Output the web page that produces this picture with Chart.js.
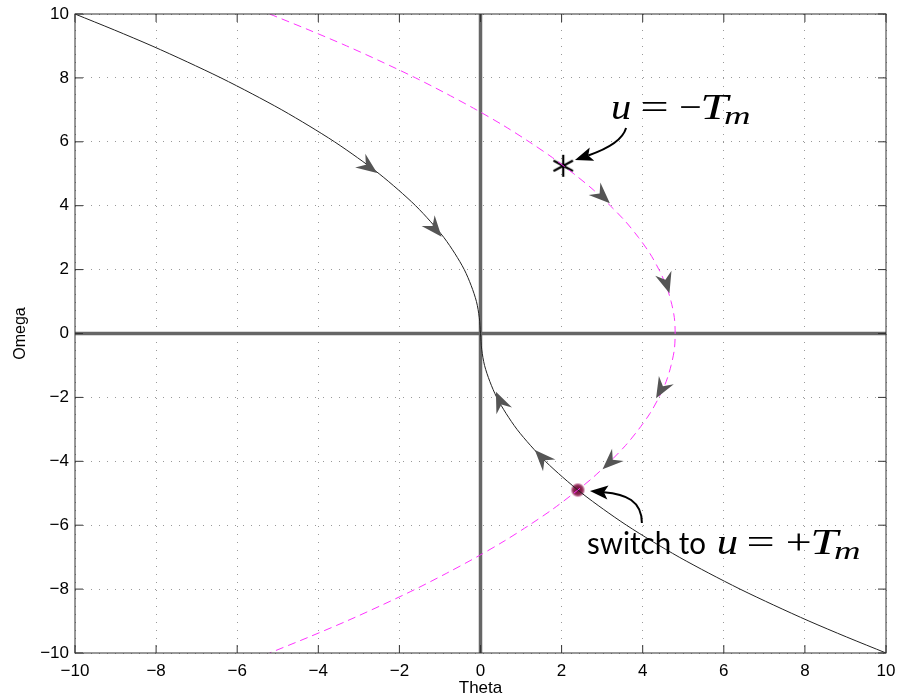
<!DOCTYPE html>
<html>
<head>
<meta charset="utf-8">
<script src="https://cdn.jsdelivr.net/npm/chart.js@4.4.1/dist/chart.umd.min.js"></script>
<style>
  html, body { margin: 0; padding: 0; background: #fff; }
  canvas { display: block; }
</style>
</head>
<body>
<canvas id="myChart" width="897" height="700"></canvas>
<script>
// omega samples shared by both trajectories
const omegaPts = [10, 9.5, 9, 8.5, 8, 7.5, 7, 6.5, 6, 5.5, 5, 4.5, 4, 3.5, 3, 2.5, 2, 1.5, 1, 0.5, 0,
  -0.5, -1, -1.5, -2, -2.5, -3, -3.5, -4, -4.5, -5, -5.5, -6, -6.5, -7, -7.5, -8, -8.5, -9, -9.5, -10];

// u = +Tm trajectory (solid black)
const blackTheta = [-10, -9.03, -8.1, -7.23, -6.4, -5.63, -4.9, -4.23, -3.6, -3.03, -2.5, -2.03, -1.6, -1.23, -0.9, -0.63, -0.4, -0.23, -0.1, -0.03, 0,
  0.03, 0.1, 0.23, 0.4, 0.63, 0.9, 1.23, 1.6, 2.03, 2.5, 3.03, 3.6, 4.23, 4.9, 5.63, 6.4, 7.23, 8.1, 9.03, 10];

// u = -Tm trajectory (dashed magenta)
const magentaTheta = [-5.2, -4.23, -3.3, -2.43, -1.6, -0.83, -0.1, 0.58, 1.2, 1.78, 2.3, 2.78, 3.2, 3.58, 3.9, 4.18, 4.4, 4.58, 4.7, 4.78, 4.8,
  4.78, 4.7, 4.58, 4.4, 4.18, 3.9, 3.58, 3.2, 2.78, 2.3, 1.78, 1.2, 0.58, -0.1, -0.83, -1.6, -2.43, -3.3, -4.23, -5.2];

// start point (*) and switching point
const startTheta = [2.04];
const startOmega = [5.25];
const switchTheta = [2.4];
const switchOmega = [-4.9];

// flow arrows along the curves
const arrowCurve = ['black', 'black', 'black', 'black', 'magenta', 'magenta', 'magenta', 'magenta'];
const arrowTheta = [-2.55, -0.96, 0.38, 1.34, 3.19, 4.66, 4.33, 3.01];
const arrowOmega = [5.02, 3.03, -1.82, -3.65, 4.08, 1.26, -2.03, -4.25];
const arrowFlow = [1, 1, -1, -1, 1, 1, 1, 1];

const tickValues = [-10, -8, -6, -4, -2, 0, 2, 4, 6, 8, 10];

const blackData = omegaPts.map((w, i) => ({ x: blackTheta[i], y: w }));
const magentaData = omegaPts.map((w, i) => ({ x: magentaTheta[i], y: w }));

// marker images
const starImg = document.createElement('canvas');
starImg.width = 28; starImg.height = 28;
(() => {
  const c = starImg.getContext('2d');
  c.strokeStyle = '#000';
  c.lineWidth = 2.2;
  [90, 28, 152].forEach(a => {
    const r = a * Math.PI / 180;
    c.beginPath();
    c.moveTo(14 - Math.cos(r) * 11, 14 - Math.sin(r) * 11);
    c.lineTo(14 + Math.cos(r) * 11, 14 + Math.sin(r) * 11);
    c.stroke();
  });
})();

const dotImg = document.createElement('canvas');
dotImg.width = 18; dotImg.height = 18;
(() => {
  const c = dotImg.getContext('2d');
  const g = c.createRadialGradient(9, 9, 0, 9, 9, 7.5);
  g.addColorStop(0, '#6e1038');
  g.addColorStop(0.5, '#86204c');
  g.addColorStop(0.72, '#a2466f');
  g.addColorStop(0.88, 'rgba(200,130,165,0.6)');
  g.addColorStop(1, 'rgba(230,180,205,0)');
  c.fillStyle = g;
  c.beginPath(); c.arc(9, 9, 7.5, 0, Math.PI * 2); c.fill();
})();

function stealth(ctx, tip, dir, len, half, notch, color) {
  const nx = -dir.y, ny = dir.x;
  const bx = tip.x - dir.x * len, by = tip.y - dir.y * len;
  ctx.beginPath();
  ctx.moveTo(tip.x, tip.y);
  ctx.lineTo(bx + nx * half, by + ny * half);
  ctx.lineTo(tip.x - dir.x * (len - notch), tip.y - dir.y * (len - notch));
  ctx.lineTo(bx - nx * half, by - ny * half);
  ctx.closePath();
  ctx.fillStyle = color;
  ctx.fill();
}

// text labels drawn piece by piece; dx = ink left, w = ink width,
// dy = baseline shift, top/h fit the ink height when given
const labelOne = { at: [3.243, 6.714], pieces: [
  { t: 'u', font: 'italic 36px "Liberation Serif"', dx: 0, w: 18 },
  { t: '=', font: '36px "Liberation Serif"', dx: 30, w: 25 },
  { t: '\u2212', font: '36px "Liberation Serif"', dx: 68, w: 20 },
  { t: 'T', font: 'italic 36px "Liberation Serif"', dx: 91, w: 29 },
  { t: 'm', font: 'italic 25px "Liberation Serif"', dx: 112, w: 25, dy: 5 }
] };
const labelTwo = { at: [2.651, -6.90], pieces: [
  { t: 'switch to', font: '30px Lato', dx: 0, w: 117, top: 23, h: 23 },
  { t: 'u', font: 'italic 36px "Liberation Serif"', dx: 130, w: 19 },
  { t: '=', font: '36px "Liberation Serif"', dx: 160, w: 25 },
  { t: '+', font: '36px "Liberation Serif"', dx: 199, w: 23 },
  { t: 'T', font: 'italic 36px "Liberation Serif"', dx: 225, w: 29 },
  { t: 'm', font: 'italic 25px "Liberation Serif"', dx: 246, w: 25, dy: 5 }
] };

// callout arrows: from/to in data units, bezier handles in px relative to "from"
const callouts = [
  { from: [3.59, 6.43], to: [2.33, 5.43], c1: [-4, 14], c2: [-22, 22] },
  { from: [3.98, -5.93], to: [2.70, -4.93], c1: [0, -22], c2: [-16, -29] }
];

const phasePlugin = {
  id: 'phase',
  beforeDatasetsDraw(chart) {
    const { ctx, chartArea: a, scales: { x, y } } = chart;
    ctx.save();
    ctx.strokeStyle = '#666';
    ctx.lineWidth = 3.5;
    ctx.beginPath();
    const x0 = x.getPixelForValue(0), y0 = y.getPixelForValue(0);
    ctx.moveTo(x0, a.top); ctx.lineTo(x0, a.bottom);
    ctx.moveTo(a.left, y0); ctx.lineTo(a.right, y0);
    ctx.stroke();
    ctx.restore();
  },
  afterDatasetsDraw(chart) {
    const { ctx, chartArea: a, scales: { x, y } } = chart;
    const P = (t, w) => ({ x: x.getPixelForValue(t), y: y.getPixelForValue(w) });

    // flow arrows
    const curves = { black: blackData, magenta: magentaData };
    arrowTheta.forEach((t, i) => {
      const tip = P(t, arrowOmega[i]);
      const pts = curves[arrowCurve[i]].map(p => P(p.x, p.y));
      let best = 0, bd = Infinity;
      for (let k = 0; k < pts.length - 1; k++) {
        const mx = (pts[k].x + pts[k + 1].x) / 2, my = (pts[k].y + pts[k + 1].y) / 2;
        const d = (mx - tip.x) ** 2 + (my - tip.y) ** 2;
        if (d < bd) { bd = d; best = k; }
      }
      const dx = (pts[best + 1].x - pts[best].x) * arrowFlow[i];
      const dy = (pts[best + 1].y - pts[best].y) * arrowFlow[i];
      const n = Math.hypot(dx, dy);
      stealth(ctx, tip, { x: dx / n, y: dy / n }, 21, 8.5, 7, '#555');
    });

    // plot box and inward ticks
    ctx.save();
    ctx.strokeStyle = '#333';
    ctx.lineWidth = 1;
    ctx.strokeRect(a.left, a.top, a.right - a.left, a.bottom - a.top);
    ctx.beginPath();
    tickValues.forEach(v => {
      const px = x.getPixelForValue(v), py = y.getPixelForValue(v);
      ctx.moveTo(px, a.bottom); ctx.lineTo(px, a.bottom - 8);
      ctx.moveTo(px, a.top); ctx.lineTo(px, a.top + 8);
      ctx.moveTo(a.left, py); ctx.lineTo(a.left + 8, py);
      ctx.moveTo(a.right, py); ctx.lineTo(a.right - 8, py);
    });
    ctx.stroke();
    ctx.restore();

    // callout arrows
    ctx.save();
    callouts.forEach(c => {
      const s = P(c.from[0], c.from[1]);
      const tip = P(c.to[0], c.to[1]);
      const h1 = { x: s.x + c.c1[0], y: s.y + c.c1[1] };
      const h2 = { x: s.x + c.c2[0], y: s.y + c.c2[1] };
      let dx = tip.x - h2.x, dy = tip.y - h2.y;
      const n = Math.hypot(dx, dy);
      dx /= n; dy /= n;
      const base = { x: tip.x - dx * 14, y: tip.y - dy * 14 };
      ctx.strokeStyle = '#000';
      ctx.lineWidth = 2;
      ctx.beginPath();
      ctx.moveTo(s.x, s.y);
      ctx.bezierCurveTo(h1.x, h1.y, h2.x, h2.y, base.x, base.y);
      ctx.stroke();
      stealth(ctx, tip, { x: dx, y: dy }, 18, 7, 4, '#000');
    });
    ctx.restore();

    // labels
    [labelOne, labelTwo].forEach(lab => {
      const o = P(lab.at[0], lab.at[1]);
      lab.pieces.forEach(p => {
        ctx.save();
        ctx.font = p.font;
        ctx.textAlign = 'left';
        ctx.textBaseline = 'alphabetic';
        ctx.fillStyle = '#000';
        const m = ctx.measureText(p.t);
        const sx = p.w / (m.actualBoundingBoxLeft + m.actualBoundingBoxRight);
        if (p.h) {
          const sy = p.h / (m.actualBoundingBoxAscent + m.actualBoundingBoxDescent);
          ctx.translate(o.x + p.dx, o.y - p.top);
          ctx.scale(sx, sy);
          ctx.fillText(p.t, m.actualBoundingBoxLeft, m.actualBoundingBoxAscent);
        } else {
          ctx.translate(o.x + p.dx, o.y + (p.dy || 0));
          ctx.scale(sx, 1);
          ctx.fillText(p.t, m.actualBoundingBoxLeft, 0);
        }
        ctx.restore();
      });
    });
  }
};

const fmt = v => (v < 0 ? '\u2212' + Math.abs(v) : String(v));

const ctx = document.querySelector('#myChart').getContext('2d');
const myChart = new Chart(ctx, {
  type: 'scatter',
  data: {
    datasets: [
      {
        label: 'u = +Tm',
        data: blackData,
        showLine: true,
        borderColor: '#222',
        borderWidth: 1,
        pointRadius: 0,
        tension: 0.3
      },
      {
        label: 'u = -Tm',
        data: magentaData,
        showLine: true,
        borderColor: '#ff33ff',
        borderWidth: 1,
        borderDash: [8, 5],
        pointRadius: 0,
        tension: 0.3
      },
      {
        label: 'start',
        data: startTheta.map((t, i) => ({ x: t, y: startOmega[i] })),
        pointStyle: starImg,
        pointRadius: 14
      },
      {
        label: 'switch',
        data: switchTheta.map((t, i) => ({ x: t, y: switchOmega[i] })),
        pointStyle: dotImg,
        pointRadius: 9
      }
    ]
  },
  options: {
    responsive: false,
    animation: false,
    layout: { autoPadding: false, padding: { left: 0, top: 14, right: 11, bottom: 0 } },
    plugins: { legend: { display: false }, tooltip: { enabled: false } },
    scales: {
      x: {
        type: 'linear',
        min: -10,
        max: 10,
        afterBuildTicks: s => { s.ticks = tickValues.map(v => ({ value: v })); },
        afterFit: s => { s.height = 47; s.paddingLeft = 0; s.paddingRight = 0; },
        grid: { color: '#999', lineWidth: 1, drawTicks: false },
        border: { display: false, dash: [1, 7] },
        ticks: { color: '#000', padding: 8, font: { family: 'Liberation Sans', size: 17 }, callback: fmt },
        title: { display: true, text: 'Theta', color: '#000', font: { family: 'Liberation Sans', size: 17 }, padding: { top: 0, bottom: 1 } }
      },
      y: {
        type: 'linear',
        min: -10,
        max: 10,
        afterBuildTicks: s => { s.ticks = tickValues.map(v => ({ value: v })); },
        afterFit: s => { s.width = 75; s.paddingTop = 0; s.paddingBottom = 0; },
        grid: { color: '#999', lineWidth: 1, drawTicks: false },
        border: { display: false, dash: [1, 7] },
        ticks: { color: '#000', padding: 6, font: { family: 'Liberation Sans', size: 17 }, callback: fmt },
        title: { display: true, text: 'Omega', color: '#000', font: { family: 'Liberation Sans', size: 16 }, padding: { top: 11, bottom: 0 } }
      }
    }
  },
  plugins: [phasePlugin]
});
</script>
</body>
</html>
